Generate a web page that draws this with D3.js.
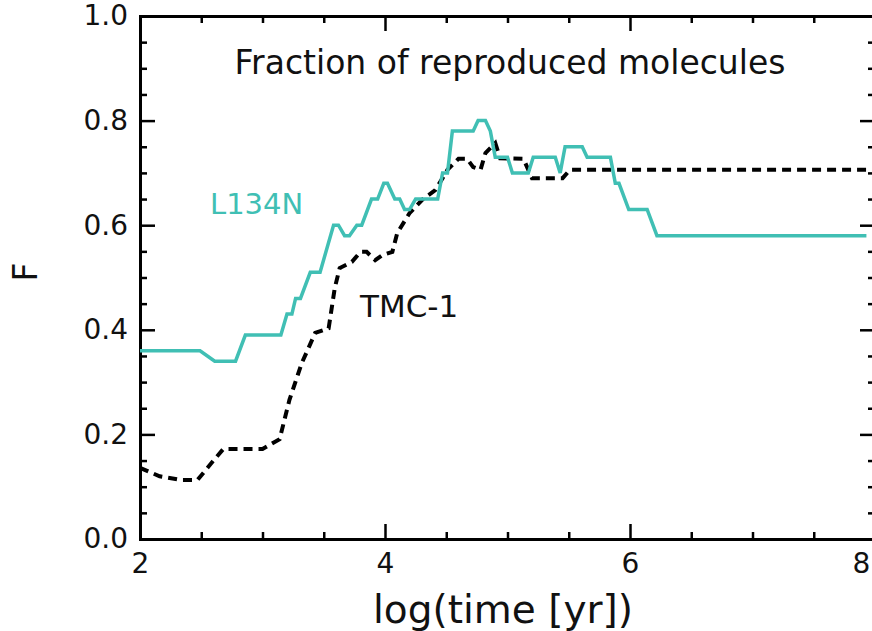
<!DOCTYPE html>
<html lang="en">
<head>
    <meta charset="UTF-8">
    <title>Fraction of reproduced molecules</title>
    <script src="https://cdnjs.cloudflare.com/ajax/libs/d3/7.8.5/d3.min.js"></script>
    <style>
        body { margin: 0; padding: 0; background: #fff; }
        svg text { font-family: "DejaVu Sans", Arial, sans-serif; fill: #111; }
        .axis path, .axis line { stroke: #000; }
    </style>
</head>
<body>
    <div id="chart"></div>
    <script>
        // log(time [yr]) and F for each cloud
        const l134nT = [2.00, 2.49, 2.61, 2.78, 2.86, 3.15, 3.20, 3.24, 3.27, 3.31, 3.39, 3.47,
            3.58, 3.62, 3.67, 3.71, 3.77, 3.81, 3.89, 3.94, 3.99, 4.02, 4.08, 4.12, 4.16, 4.20,
            4.25, 4.43, 4.47, 4.51, 4.55, 4.72, 4.76, 4.82, 4.86, 4.90, 5.00, 5.04, 5.17, 5.21,
            5.39, 5.43, 5.47, 5.61, 5.65, 5.84, 5.88, 5.91, 5.99, 6.14, 6.22, 7.93];
        const l134nF = [0.36, 0.36, 0.34, 0.34, 0.39, 0.39, 0.43, 0.43, 0.46, 0.46, 0.51, 0.51,
            0.60, 0.60, 0.58, 0.58, 0.60, 0.60, 0.65, 0.65, 0.68, 0.68, 0.65, 0.65, 0.63, 0.63,
            0.65, 0.65, 0.70, 0.70, 0.78, 0.78, 0.80, 0.80, 0.78, 0.73, 0.73, 0.70, 0.70, 0.73,
            0.73, 0.70, 0.75, 0.75, 0.73, 0.73, 0.68, 0.68, 0.63, 0.63, 0.58, 0.58];

        const tmcT = [2.00, 2.16, 2.33, 2.47, 2.60, 2.68, 3.00, 3.14, 3.22, 3.32, 3.43, 3.54,
            3.59, 3.63, 3.73, 3.80, 3.85, 3.92, 3.98, 4.06, 4.10, 4.15, 4.20, 4.31, 4.41, 4.47,
            4.51, 4.60, 4.67, 4.72, 4.78, 4.82, 4.90, 4.94, 5.13, 5.20, 5.45, 5.51, 7.93];
        const tmcF = [0.136, 0.120, 0.113, 0.113, 0.150, 0.172, 0.172, 0.191, 0.266, 0.336, 0.394, 0.403,
            0.480, 0.518, 0.530, 0.549, 0.549, 0.533, 0.543, 0.549, 0.585, 0.604, 0.623, 0.650, 0.667, 0.690,
            0.706, 0.727, 0.727, 0.711, 0.706, 0.738, 0.757, 0.728, 0.727, 0.690, 0.690, 0.706, 0.706];

        const xMajor = [2, 4, 6, 8];
        const xMinor = [2.5, 3, 3.5, 4.5, 5, 5.5, 6.5, 7, 7.5];
        const yMajor = [0, 0.2, 0.4, 0.6, 0.8, 1.0];
        const yMinor = d3.range(0.05, 1, 0.05).filter(v => Math.abs(v * 5 - Math.round(v * 5)) > 1e-6);

        const width = 872, height = 631;
        const margin = { top: 16, right: -3, bottom: 92, left: 140 };

        const svg = d3.select("#chart").append("svg")
            .attr("width", width)
            .attr("height", height);

        const x = d3.scaleLinear().domain([2, 8]).range([margin.left, width - margin.right]);
        const y = d3.scaleLinear().domain([0, 1]).range([height - margin.bottom, margin.top]);

        const fmt = d3.format(".1f");

        // ticks point inward on all four sides
        function drawAxis(gen, tx, ty, major, minor, labelled, pad) {
            const g = svg.append("g").attr("class", "axis").attr("transform", `translate(${tx},${ty})`);
            g.call(gen.tickValues(minor).tickSize(-7).tickFormat(""));
            g.selectAll(".tick line").attr("stroke-width", 2.5);
            g.select(".domain").remove();
            const g2 = svg.append("g").attr("class", "axis").attr("transform", `translate(${tx},${ty})`);
            g2.call(gen.tickValues(major).tickSize(-15).tickPadding(pad || 0)
                .tickFormat(labelled ? labelled : ""));
            g2.selectAll(".tick line").attr("stroke-width", 2.5);
            g2.select(".domain").attr("stroke-width", 3);
            g2.selectAll("text").style("font-size", "28px").attr("fill", "#111");
            return g2;
        }

        const bottom = drawAxis(d3.axisBottom(x), 0, y(0), xMajor, xMinor, d => d, 14);
        drawAxis(d3.axisTop(x), 0, y(1), xMajor, xMinor, null);
        drawAxis(d3.axisLeft(y), x(2), 0, yMajor, yMinor, fmt, 12);
        drawAxis(d3.axisRight(y), x(8), 0, yMajor, yMinor, null);

        // the last label sits at the window edge; nudge it in
        bottom.selectAll(".tick text").filter(d => d === 8).attr("x", -14);

        const line = d3.line().x(d => x(d[0])).y(d => y(d[1]));

        svg.append("path")
            .datum(tmcT.map((t, i) => [t, tmcF[i]]))
            .attr("d", line)
            .attr("fill", "none")
            .attr("stroke", "#000")
            .attr("stroke-width", 4)
            .attr("stroke-dasharray", "9,6");

        svg.append("path")
            .datum(l134nT.map((t, i) => [t, l134nF[i]]))
            .attr("d", line)
            .attr("fill", "none")
            .attr("stroke", "#40bfb4")
            .attr("stroke-width", 3.5);

        // labels
        svg.append("text")
            .attr("x", 510).attr("y", 74)
            .attr("text-anchor", "middle")
            .style("font-size", "33px")
            .text("Fraction of reproduced molecules");

        svg.append("text")
            .attr("x", 210).attr("y", 214)
            .style("font-size", "29px")
            .style("fill", "#40bfb4")
            .text("L134N");

        svg.append("text")
            .attr("x", 360).attr("y", 317)
            .style("font-size", "31px")
            .text("TMC-1");

        svg.append("text")
            .attr("x", 503).attr("y", 623)
            .attr("text-anchor", "middle")
            .style("font-size", "39px")
            .text("log(time [yr])");

        svg.append("text")
            .attr("transform", "translate(37,272) rotate(-90)")
            .attr("text-anchor", "middle")
            .style("font-size", "33px")
            .text("F");
    </script>
</body>
</html>
